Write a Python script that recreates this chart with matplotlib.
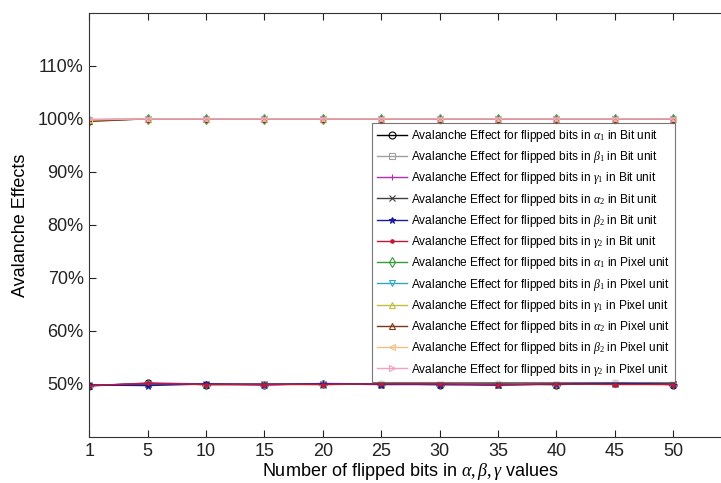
import numpy as np
import matplotlib
matplotlib.use("Agg")
import matplotlib.pyplot as plt
from matplotlib.ticker import FuncFormatter

plt.rcParams['font.family'] = ['Liberation Sans', 'DejaVu Sans']
plt.rcParams['mathtext.fontset'] = 'custom'
plt.rcParams['mathtext.rm'] = 'Liberation Serif'
plt.rcParams['mathtext.it'] = 'Liberation Serif:italic'

# flipped bits (drawn at equally spaced positions, as in the original)
flipped = [1, 5, 10, 15, 20, 25, 30, 35, 40, 45, 50]

# avalanche effect (%) - bit unit
a1_bit = [49.7, 50.1, 49.9, 49.9, 50.0, 50.0, 49.9, 50.0, 49.9, 50.1, 49.9]
b1_bit = [49.8, 50.0, 50.0, 49.9, 50.0, 49.9, 50.0, 49.9, 50.0, 50.0, 50.0]
g1_bit = [49.6, 50.2, 50.0, 49.8, 50.1, 50.0, 49.9, 49.8, 50.0, 50.0, 49.9]
a2_bit = [49.7, 50.0, 49.9, 50.0, 49.9, 50.0, 50.0, 49.9, 49.9, 50.1, 50.0]
b2_bit = [49.8, 49.7, 50.0, 49.9, 50.0, 49.9, 49.9, 49.8, 50.0, 50.2, 49.9]
g2_bit = [49.7, 50.1, 49.9, 49.9, 49.9, 50.0, 50.0, 49.9, 50.0, 49.9, 49.9]

# avalanche effect (%) - pixel unit
a1_pix = [99.6, 100, 100, 100, 100, 100, 100, 100, 100, 100, 100]
b1_pix = [99.8, 100, 100, 100, 100, 100, 100, 100, 100, 100, 100]
g1_pix = [99.7, 100, 100, 100, 100, 100, 100, 100, 100, 100, 100]
a2_pix = [99.5, 100, 100, 100, 100, 100, 100, 100, 100, 100, 100]
b2_pix = [99.8, 100, 100, 100, 100, 100, 100, 100, 100, 100, 100]
g2_pix = [99.9, 100, 100, 100, 100, 100, 100, 100, 100, 100, 100]

series = [
    (a1_bit, r'$\alpha_1$', 'Bit', '#000000', 'o'),
    (b1_bit, r'$\beta_1$', 'Bit', '#a0a0a0', 's'),
    (g1_bit, r'$\gamma_1$', 'Bit', '#b030b0', '+'),
    (a2_bit, r'$\alpha_2$', 'Bit', '#404040', 'x'),
    (b2_bit, r'$\beta_2$', 'Bit', '#1a1aa0', '*'),
    (g2_bit, r'$\gamma_2$', 'Bit', '#c01838', '.'),
    (a1_pix, r'$\alpha_1$', 'Pixel', '#3a9a3a', 'd'),
    (b1_pix, r'$\beta_1$', 'Pixel', '#30a8c0', 'v'),
    (g1_pix, r'$\gamma_1$', 'Pixel', '#c0c040', '^'),
    (a2_pix, r'$\alpha_2$', 'Pixel', '#7a3a1a', '^'),
    (b2_pix, r'$\beta_2$', 'Pixel', '#f0c080', '<'),
    (g2_pix, r'$\gamma_2$', 'Pixel', '#f0a0c0', '>'),
]

fig = plt.figure(figsize=(7.21, 4.83), dpi=100)
ax = fig.add_axes([0.1239, 0.0952, 0.8906, 0.8785])

pos = np.arange(1, len(flipped) + 1)
for vals, sym, unit, col, mk in series:
    ax.plot(pos, vals, color=col, marker=mk, markersize=5, lw=1.0,
            markerfacecolor='none' if mk not in ('*', '.', '+', 'x') else col,
            markeredgewidth=0.8,
            label=f'Avalanche Effect for flipped bits in {sym} in {unit} unit')

ax.set_xlim(1, 12)
ax.set_ylim(40, 120)
ax.set_xticks(pos)
ax.set_xticklabels([str(v) for v in flipped])
ax.set_yticks([50, 60, 70, 80, 90, 100, 110])
ax.yaxis.set_major_formatter(FuncFormatter(lambda v, p: f'{v:.0f}%'))
ax.tick_params(direction='in', length=5, labelsize=13, top=True, right=True,
               colors='#222222', pad=4)
ax.set_xlabel(r'Number of flipped bits in $\alpha,\beta,\gamma$ values', fontsize=13,
              labelpad=1)
ax.set_ylabel('Avalanche Effects', fontsize=13, labelpad=6)
for sp in ax.spines.values():
    sp.set_color('#333333')

leg = ax.legend(loc='upper left', bbox_to_anchor=(372 / 721, 1 - 123 / 483),
                bbox_transform=fig.transFigure, fontsize=8.6, frameon=True,
                fancybox=False, edgecolor='#555555', handlelength=2.5,
                handletextpad=0.4, labelspacing=0.44, borderpad=0.4,
                borderaxespad=0)
leg.get_frame().set_linewidth(0.8)

fig.savefig('out.png', dpi=100)
